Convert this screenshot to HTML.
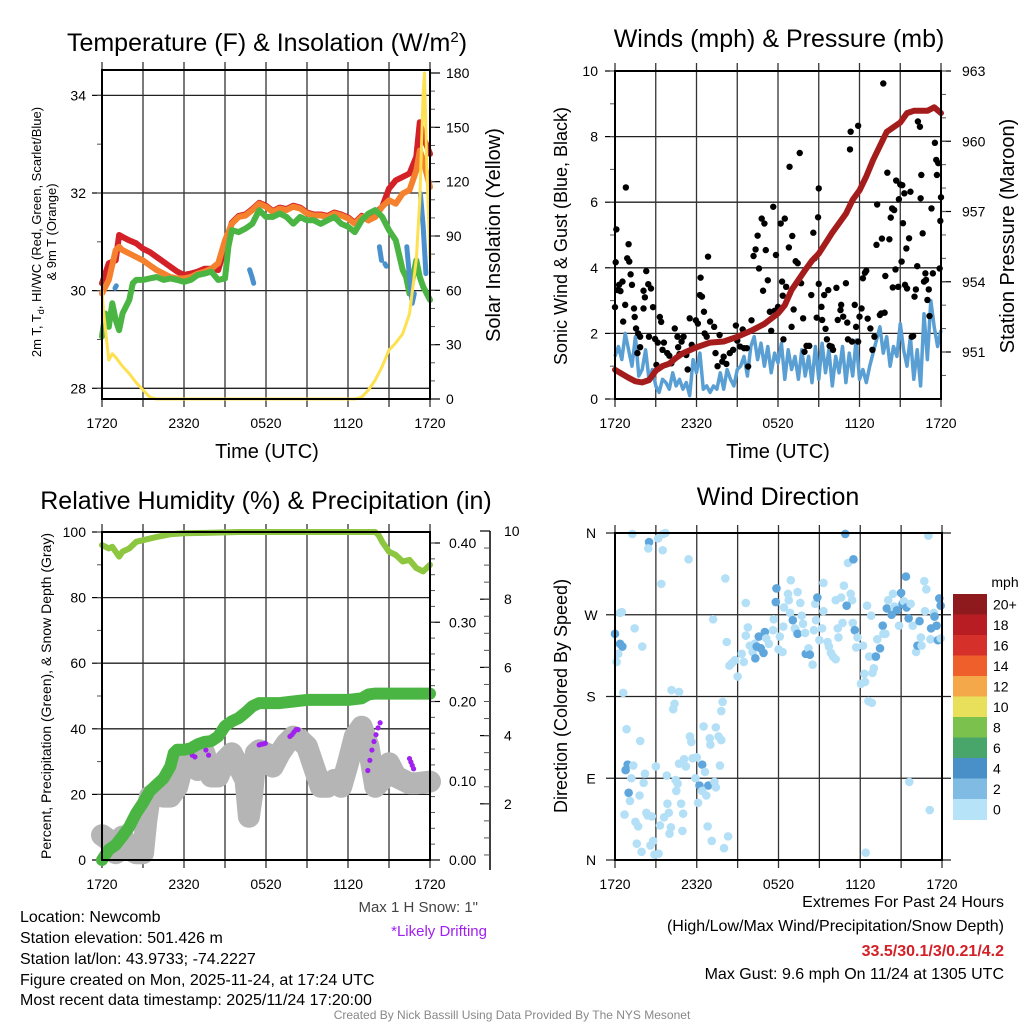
<!DOCTYPE html>
<html><head><meta charset="utf-8">
<style>
html,body{margin:0;padding:0;background:#fff;}
svg{display:block;font-family:"Liberation Sans",Arial,sans-serif;}
</style></head>
<body>
<svg id="chart" width="1024" height="1024" viewBox="0 0 1024 1024" xmlns="http://www.w3.org/2000/svg">
<rect width="1024" height="1024" fill="#fff"/>
<g id="p1"></g>
<g id="p2"></g>
<g id="p3"></g>
<g id="p4"></g>
<g id="txt">
<text x="267" y="51" font-size="25" text-anchor="middle">Temperature (F) &amp; Insolation (W/m<tspan dy="-9" font-size="15">2</tspan><tspan dy="9">)</tspan></text>
<text x="779" y="47" font-size="25" text-anchor="middle">Winds (mph) &amp; Pressure (mb)</text>
<text x="266" y="509" font-size="25" text-anchor="middle">Relative Humidity (%) &amp; Precipitation (in)</text>
<text x="778" y="505" font-size="25" text-anchor="middle">Wind Direction</text>
<text x="267" y="458" font-size="20" text-anchor="middle">Time (UTC)</text>
<text x="778" y="458" font-size="20" text-anchor="middle">Time (UTC)</text>
<text transform="translate(41,232) rotate(-90)" font-size="13" text-anchor="middle">2m T, T<tspan font-size="9" dy="3">d</tspan><tspan dy="-3">, HI/WC (Red, Green, Scarlet/Blue)</tspan></text>
<text transform="translate(56,232) rotate(-90)" font-size="13" text-anchor="middle">&amp; 9m T (Orange)</text>
<text transform="translate(500,235) rotate(-90)" font-size="20" text-anchor="middle">Solar Insolation (Yellow)</text>
<text transform="translate(567,236) rotate(-90)" font-size="18" text-anchor="middle">Sonic Wind &amp; Gust (Blue, Black)</text>
<text transform="translate(1014,236) rotate(-90)" font-size="20" text-anchor="middle">Station Pressure (Maroon)</text>
<text transform="translate(51,696) rotate(-90)" font-size="14" text-anchor="middle">Percent, Precipitation (Green), &amp; Snow Depth (Gray)</text>
<text transform="translate(567,696) rotate(-90)" font-size="18" text-anchor="middle">Direction (Colored By Speed)</text>
<text x="478" y="912" font-size="15" text-anchor="end" fill="#444">Max 1 H Snow: 1"</text>
<text x="487" y="936" font-size="15" text-anchor="end" fill="#a020f0">*Likely Drifting</text>
<g font-size="16">
<text x="20" y="922">Location: Newcomb</text>
<text x="20" y="943">Station elevation: 501.426 m</text>
<text x="20" y="964">Station lat/lon: 43.9733; -74.2227</text>
<text x="20" y="985">Figure created on Mon, 2025-11-24, at 17:24 UTC</text>
<text x="20" y="1005">Most recent data timestamp: 2025/11/24 17:20:00</text>
</g>
<g font-size="16" text-anchor="end">
<text x="1004" y="907">Extremes For Past 24 Hours</text>
<text x="1004" y="931">(High/Low/Max Wind/Precipitation/Snow Depth)</text>
<text x="1004" y="956" fill="#d42027" font-weight="bold">33.5/30.1/3/0.21/4.2</text>
<text x="1004" y="979">Max Gust: 9.6 mph On 11/24 at 1305 UTC</text>
</g>
<text x="512" y="1019" font-size="12" fill="#888" text-anchor="middle">Created By Nick Bassill Using Data Provided By The NYS Mesonet</text>
</g>
</svg>
<script>
// ---------- Panel 1 data ----------
const tempTimes=[0,0.5,1,1.25,1.5,2,2.5,3,3.5,4,4.5,5,5.5,6,6.5,7,7.5,8,8.5,9,9.5,10,10.5,11,11.5,12,12.5,13,13.5,14,14.5,15,15.5,16,16.5,17,17.5,18,18.5,19,19.5,20,20.5,21,21.5,22,22.5,23,23.25,23.5,24];
const redTemp=[30.15,30.56,30.62,31.14,31.1,31.03,30.97,30.86,30.79,30.69,30.59,30.49,30.39,30.32,30.35,30.39,30.45,30.45,30.42,30.9,31.39,31.53,31.56,31.67,31.8,31.74,31.63,31.7,31.67,31.74,31.7,31.6,31.56,31.56,31.53,31.6,31.56,31.5,31.39,31.53,31.44,31.58,31.72,32.09,32.26,32.33,32.4,32.74,33.45,33.15,32.8];
const orangeTemp=[29.94,30.22,30.83,30.9,30.83,30.76,30.69,30.62,30.52,30.42,30.35,30.28,30.25,30.25,30.28,30.35,30.39,30.45,30.56,31.03,31.37,31.51,31.54,31.65,31.78,31.72,31.61,31.68,31.65,31.72,31.68,31.58,31.54,31.54,31.51,31.58,31.54,31.48,31.37,31.51,31.44,31.51,31.72,31.85,31.78,31.99,32.06,32.46,32.87,32.67,32.12];
const greenTimes=[0,0.25,0.5,0.75,1,1.25,1.5,2,2.25,2.5,3,3.5,4,4.5,5,5.5,6,6.5,7,7.5,8,8.5,9,9.25,9.5,10,10.5,11,11.5,12,12.5,13,13.5,14,14.5,15,15.5,16,16.5,17,17.5,18,18.5,19,19.5,20,20.5,21,21.5,22,22.25,22.5,23,23.25,23.5,24];
const greenTemp=[29.06,29.53,29.26,29.74,29.4,29.19,29.53,29.81,30.15,30.22,30.22,30.25,30.28,30.22,30.25,30.22,30.18,30.22,30.32,30.35,30.39,30.22,30.25,30.9,31.24,31.2,31.27,31.37,31.65,31.51,31.51,31.58,31.51,31.37,31.51,31.44,31.44,31.37,31.44,31.51,31.37,31.31,31.2,31.44,31.58,31.65,31.51,31.24,31.03,30.42,30.28,29.94,30.62,30.28,30.08,29.81];
const blueTimes=[0.95,1.05,null,10.8,10.95,11.1,null,20.3,20.45,null,20.7,20.8,null,22.3,22.5,22.7,22.85,null,23.3,23.5,23.7];
const blueTemp=[30.05,30.1,null,30.43,30.3,30.15,null,30.9,30.62,null,30.55,30.5,null,30.9,30.28,29.74,29.94,null,31.99,31.31,30.35];
const solarTimes=[0,0.1,0.5,0.75,1,1.5,2,2.5,3,3.5,4,18.5,19,19.5,20,20.5,21,21.5,22,22.5,23,23.25,23.5,23.6,23.75,24];
const solarVals=[60,49,21.5,25,23,18,14,9,5,1,0,0,1,5,10.5,18,27,31,36,47,77,110,169,180,132,77];
const tempTicks=[28,30,32,34];
const solarTicks=[0,30,60,90,120,150,180];
const timeLabels=["1720","2320","0520","1120","1720"];
// ---------- Panel 2 data ----------
const presTimes=[0,1,1.5,2,2.5,3,3.5,4,4.5,5,6,7,8,9,10,11,12,12.5,13,14,14.5,15,16,17,17.5,18,18.5,19,19.5,20,21,21.5,22,23,23.5,24];
const presVals=[950.24,949.9,949.75,949.7,949.8,950.2,950.4,950.5,950.75,950.95,951.2,951.4,951.45,951.65,951.9,952.2,952.65,953.0,953.65,954.5,954.9,955.2,956.1,956.9,957.5,957.9,958.5,959.2,959.8,960.4,960.8,961.2,961.3,961.3,961.45,961.2];
const windVals=[1.3,1.6,1.2,2.0,1.5,1.0,1.9,0.7,0.9,1.5,0.6,0.9,0.4,0.2,0.6,0.5,0.3,0.8,0.4,0.6,0.3,0.5,0.1,1.2,0.8,1.4,0.3,0.4,0.2,0.4,0.3,0.8,0.3,0.9,0.6,0.4,0.9,1.0,1.3,0.7,1.6,1.9,1.2,1.7,1.0,1.6,0.8,1.4,1.1,1.7,0.6,1.5,0.9,1.3,0.6,1.5,0.7,1.3,0.5,1.6,0.6,1.7,0.8,1.5,0.4,1.3,0.8,1.6,0.5,1.4,0.7,1.8,0.6,0.9,0.5,1.0,1.4,1.8,2.2,1.4,1.9,1.0,1.6,1.3,2.3,1.5,1.0,1.9,0.6,1.5,0.4,2.6,1.2,3.0,2.2,1.6,2.1];
const gustTimes=[0,0.05,0.1,0.2,0.3,0.4,0.55,0.6,0.75,0.8,0.9,1.0,1.05,1.15,1.25,1.4,1.45,1.55,1.7,1.85,1.65,1.85,2.1,2.2,2.3,2.45,2.65,2.1,2.8,2.5,2.95,3.05,3.15,3.3,3.4,3.5,3.6,3.85,4.0,4.15,4.4,4.6,4.65,4.75,4.9,5.05,5.25,5.35,5.5,5.65,5.95,6.1,6.25,6.4,6.3,6.55,6.6,6.75,6.85,7.0,7.3,7.4,7.55,7.7,7.9,8.0,8.2,8.45,8.7,8.9,9.0,9.2,9.4,9.5,9.7,9.8,10.05,10.2,10.35,10.5,10.6,10.8,10.9,11.0,11.1,11.25,11.4,11.5,11.65,11.75,11.85,12.0,12.2,12.3,12.35,12.4,12.5,12.6,12.8,12.85,13.0,13.05,13.15,13.3,13.45,13.6,13.7,13.85,13.95,14.1,14.3,14.45,14.6,14.7,14.85,14.95,15.0,15.0,15.2,15.25,15.4,15.5,15.6,15.7,15.8,15.95,16.05,16.3,16.4,16.6,16.65,16.8,17.0,17.1,17.15,17.3,17.35,17.45,17.65,17.75,17.9,17.9,18.0,18.15,18.25,18.4,18.5,18.6,18.8,18.95,19.1,19.25,19.3,19.5,19.6,19.65,19.75,19.85,19.9,20.05,20.2,20.3,20.4,20.45,20.55,20.65,20.7,20.85,20.9,21.0,21.1,21.15,21.2,21.3,21.35,21.45,21.5,21.65,21.75,21.85,21.95,22.05,22.15,22.25,22.3,22.45,22.5,22.55,22.65,22.75,22.85,22.9,23.0,23.1,23.15,23.3,23.4,23.55,23.65,23.7,23.8,23.9,23.95,24];
const gustVals=[2.8,4.17,5.17,3.32,3.48,3.29,3.58,2.36,2.87,6.45,4.29,4.72,4.19,3.8,3.48,2.76,2.5,2.15,2.0,1.9,1.4,1.58,3.3,3.1,3.9,3.5,3.37,2.76,2.8,1.9,1.83,1.04,1.72,2.5,2.35,1.5,1.72,1.4,1.32,1.09,2.15,1.9,1.58,1.37,1.75,1.9,1.34,0.9,2.46,1.65,2.4,2.3,3.17,3.12,3.7,2.66,2.0,1.9,4.34,2.36,2.2,1.4,1.0,1.95,1.14,1.29,1.07,1.4,1.5,2.24,1.78,1.6,2.12,1.55,1.55,0.99,2.4,4.36,4.56,4.98,3.98,5.5,3.3,5.35,4.54,3.62,2.66,2.08,5.86,2.69,4.39,2.81,5.35,3.58,3.15,1.82,5.5,3.42,4.62,7.08,2.2,4.97,2.73,4.2,4.14,7.5,3.53,2.46,1.44,1.62,1.62,3.17,5.07,4.29,2.48,5.54,6.42,3.51,2.81,2.41,3.17,2.14,1.82,3.32,1.62,1.6,1.5,3.39,2.41,2.71,2.87,2.51,3.53,2.33,1.82,7.61,8.15,1.75,2.87,2.2,1.75,8.33,2.51,2.76,3.68,3.85,3.91,2.45,2.15,1.5,1.9,4.7,5.93,2.56,2.61,4.89,9.62,2.63,3.75,6.9,4.87,5.53,5.81,3.4,5.76,3.95,6.66,3.42,6.09,6.54,4.19,6.52,5.36,6.27,3.48,4.59,3.37,4.9,6.32,1.9,1.92,3.12,3.34,4.05,8.46,8.3,6.12,6.83,5.05,3.58,3.83,3.63,3.02,3.34,2.53,5.81,3.83,7.81,7.29,6.83,7.19,3.98,5.43,6.15];
const windTicks=[0,2,4,6,8,10];
const presTicks=[951,954,957,960,963];
// ---------- Panel 3 data ----------
const rhTimes=[0,0.5,0.75,1.25,1.5,2,2.5,3,4,5,6,8,10,20,20.25,20.5,21,21.5,22,22.5,23,23.5,24];
const rhVals=[96,95,95.5,92.5,94,95,97,97.5,98.5,99.3,99.6,99.8,100,100,99,97,94,93,91,91.5,89,88,90];
const precipTimes=[0,0.5,1,1.5,2,2.5,3,3.5,4,4.5,5,5.25,5.5,6,6.5,7,7.5,8,8.5,9,9.5,10,10.5,11,11.5,13,14,15,18,19,19.5,20,24];
const precipVals=[0,0.013,0.019,0.03,0.042,0.059,0.072,0.087,0.095,0.103,0.118,0.135,0.139,0.139,0.141,0.146,0.149,0.15,0.156,0.169,0.175,0.179,0.186,0.194,0.198,0.198,0.2,0.202,0.202,0.204,0.209,0.21,0.21];
const snowTimes=[0,0.5,1,1.5,2,2.5,3,3.25,3.5,4,4.5,5,5.5,6,6.5,7,7.5,8,8.5,9,9.5,10,10.5,10.75,11,11.25,11.5,12,12.5,13,13.5,14,14.5,15,15.5,16,16.5,17,17.5,18,18.5,19,19.5,20,20.5,21,21.5,22,22.5,23,24];
const snowVals=[1.08,0.94,0.55,1.04,0.65,0.55,0.55,1.53,2.21,2.31,2.21,2.21,2.5,3.28,3.19,2.99,3.48,2.8,2.8,3.28,3.48,3.09,2.7,1.62,2.31,3.48,3.57,3.48,3.09,3.48,3.77,3.97,3.87,3.68,3.09,2.5,2.5,2.7,2.5,3.19,3.97,4.26,3.68,2.5,2.7,3.19,2.8,2.7,2.6,2.6,2.65];
const driftTimes=[6.6,6.8,7.6,7.8,11.5,11.65,11.8,11.95,13.75,13.9,14.05,14.2,14.35,19.45,19.6,19.75,19.9,20.05,20.2,20.35,22.5,22.6,22.7,22.8];
const driftVals=[3.25,3.2,3.4,3.25,3.55,3.57,3.58,3.6,3.8,3.85,3.93,4.0,4.0,2.8,3.1,3.4,3.65,3.85,4.05,4.2,3.15,3.05,2.95,2.85];
const pctTicks=[0,20,40,60,80,100];
const precipTicks=[0,0.1,0.2,0.3,0.4];
const snowTicks=[2,4,6,8,10];
// ---------- Panel 4 data ----------
const dirTimes=[1.27,2.5,2.44,3.17,3.54,3.7,3.5,5.4,3.4,8.1,0.37,0.5,1.44,0,0.37,0.54,0.24,0.12,2.0,0.6,7.2,8.2,4.15,4.7,4.37,4.27,7.9,7.8,0.85,1.85,0.93,0.78,1.34,1.2,2.2,2.1,1.0,1.1,1.8,0.7,1.5,1.7,2.3,2.4,2.7,1.6,1.95,2.6,2.8,2.9,3.2,3.3,3.0,3.6,3.8,3.85,3.95,4.1,4.0,4.45,4.6,4.5,4.85,5.0,4.95,4.7,5.07,5.2,5.5,5.6,5.7,6.0,5.9,6.4,6.6,6.2,6.85,6.4,6.7,6.1,7.3,7.4,6.5,6.95,7.4,7.6,7.8,7.0,7.7,6.8,7.1,8.3,8.0,8.4,8.6,8.8,9.0,9.3,9.45,9.6,9.75,9.6,9.9,10.25,10.1,10.3,10.55,10.4,10.7,10.9,11.0,11.1,11.3,11.6,11.65,11.8,11.85,12.1,12.0,12.3,12.4,12.35,12.7,12.75,12.9,12.85,13.05,13.2,13.25,13.4,13.4,13.6,13.7,13.8,13.95,14.0,14.2,14.3,14.5,14.6,14.7,14.85,14.75,15.0,15.2,15.3,15.3,15.6,15.7,15.85,16.0,16.2,16.2,16.35,16.4,16.6,16.7,16.8,16.9,17.1,17.5,17.3,17.4,17.0,17.45,17.6,17.8,17.7,18.2,18.05,18.35,18.3,18.5,18.65,18.8,18.9,19.0,19.05,18.6,18.85,19.15,19.25,19.45,19.65,19.7,19.85,19.95,20.05,20.3,20.4,20.5,20.7,20.85,21.0,21.1,21.2,21.35,21.4,21.55,21.7,21.85,22.1,22.2,22.35,22.45,22.5,22.7,22.85,22.75,23.15,23.2,23.4,23.45,23.6,23.7,23.8,23.9,23.9,21.6,23.1,18.4,23.0];
const dirVals=[359,350,343,354,359,360,341,331,304,310,272,273,255,249,238,235,227,218,235,184,265,240,187,185,172,166,174,164,144,131,105,99,104,90,95,85,74,65,71,50,42,37,52,49,48,18,9,16,21,6,7,38,103,47,93,62,52,36,29,88,84,76,62,51,32,106,111,103,136,130,112,113,90,105,97,82,82,76,71,63,86,80,147,134,146,136,132,127,104,37,21,26,13,214,217,220,202,227,218,247,256,283,236,238,229,222,246,235,233,228,251,244,238,253,265,284,299,246,232,229,278,257,293,286,308,272,264,255,254,249,295,283,269,260,250,227,233,226,215,253,282,289,264,242,255,274,305,240,235,228,224,221,286,255,245,289,261,302,359,327,331,293,286,280,261,253,245,234,236,194,196,205,280,224,269,206,211,224,175,173,224,243,233,258,249,249,277,286,270,293,279,275,258,294,282,285,312,278,266,282,258,229,236,263,245,236,307,298,274,243,255,272,268,258,242,288,280,244,86,55,8,357];
const dirSpeedClass=[1,3,1,1,1,1,1,1,1,1,1,1,1,3,3,3,1,1,1,1,1,1,1,1,1,1,1,1,1,1,3,3,1,1,1,1,3,1,1,1,1,1,1,1,1,1,1,1,1,1,1,1,1,1,1,1,1,1,1,1,1,1,1,1,1,1,1,1,1,1,1,1,1,3,1,3,3,1,1,1,1,1,1,1,1,1,1,1,1,1,1,1,1,1,1,1,1,1,1,1,1,1,1,1,1,3,3,3,3,3,3,1,1,1,1,3,3,1,1,1,1,1,1,1,1,1,3,1,1,3,1,1,1,1,1,3,1,3,1,1,1,3,1,1,1,1,1,1,1,1,1,1,1,1,1,1,1,1,3,1,3,1,1,3,1,3,1,1,1,1,1,1,1,1,1,1,1,1,1,1,3,1,3,3,1,1,3,1,3,1,1,3,1,3,3,1,3,3,3,1,1,1,3,3,1,1,1,1,1,1,3,1,3,3,3,3,3,1,1,1,1];
const dirLabels=["N","E","S","W","N"];
const cbarLabels=["20+","18","16","14","12","10","8","6","4","2","0"];
const cbarColors=["#8e1a1d","#b81d24","#d6302a","#ee5f2c","#f5a84a","#e8e05a","#7ac14e","#49a66b","#4a90c8","#7fbbe3","#b7e3f8"];

// ---------- helpers ----------
const NS="http://www.w3.org/2000/svg";
function mk(parent,tag,attrs){const e=document.createElementNS(NS,tag);for(const k in attrs)e.setAttribute(k,attrs[k]);parent.appendChild(e);return e;}
function pathFrom(ts,vs,sx,sy){let d="",pen=false;for(let i=0;i<ts.length;i++){if(ts[i]===null||vs[i]===null){pen=false;continue;}d+=(pen?"L":"M")+sx(ts[i]).toFixed(1)+","+sy(vs[i]).toFixed(1);pen=true;}return d;}
function lin(d0,d1,r0,r1){return v=>r0+(v-d0)/(d1-d0)*(r1-r0);}

function frame(g,x0,x1,y0,y1,xb){
  const sx=lin(0,24,x0,x1);
  for(let h=0;h<=24;h+=3){
    const l=mk(g,"line",{x1:sx(h),x2:sx(h),y1:y0-8,y2:y1+8,stroke:"#333","stroke-width":1.3});
    
    
  }
  timeLabels.forEach((t,i)=>{
    const tx=mk(g,"text",{x:sx(i*6),y:xb,"font-size":14,"text-anchor":"middle"});tx.textContent=t;
    
    
  });
  return sx;
}
function box(g,x0,x1,y0,y1){const r=mk(g,"rect",{x:x0,y:y0,width:x1-x0,height:y1-y0,fill:"none",stroke:"#000","stroke-width":2});
  
  }
function hgrid(g,x0,x1,y,ext){const l=mk(g,"line",{x1:x0-ext,x2:x1+ext,y1:y,y2:y,stroke:"#222","stroke-width":1.3});
  
  }
function leftTicks(g,x0,ticks,sy,minorStep,fmt,lx){
  ticks.forEach(v=>{mk(g,"line",{x1:x0-10,x2:x0,y1:sy(v),y2:sy(v),stroke:"#000","stroke-width":1.2});
    const t=mk(g,"text",{x:lx,y:sy(v)+5,"font-size":14,"text-anchor":"end"});t.textContent=fmt(v);
    
    });
  if(minorStep){for(let v=ticks[0];v<=ticks[ticks.length-1];v+=minorStep){mk(g,"line",{x1:x0-5,x2:x0,y1:sy(v),y2:sy(v),stroke:"#555","stroke-width":1});}}
}
function rightTicks(g,x1,ticks,sy,minorVals,fmt,lx){
  ticks.forEach(v=>{mk(g,"line",{x1:x1,x2:x1+10,y1:sy(v),y2:sy(v),stroke:"#000","stroke-width":1.2});
    const t=mk(g,"text",{x:lx,y:sy(v)+5,"font-size":14,"text-anchor":"start"});t.textContent=fmt(v);
    
    });
  minorVals.forEach(v=>mk(g,"line",{x1:x1,x2:x1+5,y1:sy(v),y2:sy(v),stroke:"#555","stroke-width":1}));
}
function range(a,b,s){const r=[];for(let v=a;v<=b+1e-9;v+=s)r.push(+v.toFixed(4));return r;}

// ---------- Panel 1 ----------
(function(){
  const g=document.getElementById("p1");
  const X0=102,X1=430,Y0=70,Y1=399;
  const sy=lin(28,32,388.3,193),syR=lin(0,180,399,73);
  tempTicks.forEach(v=>hgrid(g,X0,X1,sy(v),0));
  const sx=frame(g,X0,X1,Y0,Y1,428);
  leftTicks(g,X0,tempTicks,sy,1,v=>String(v),86);
  rightTicks(g,X1,solarTicks,syR,range(10,170,10),v=>String(v),446);
  const red=mk(g,"path",{d:pathFrom(tempTimes,redTemp,sx,sy),fill:"none",stroke:"#d42027","stroke-width":6,"stroke-linejoin":"round","stroke-linecap":"round"});
  
  
  const or=mk(g,"path",{d:pathFrom(tempTimes,orangeTemp,sx,sy),fill:"none",stroke:"#f5812f","stroke-width":6,"stroke-linejoin":"round","stroke-linecap":"round"});
  
  
  const gr=mk(g,"path",{d:pathFrom(greenTimes,greenTemp,sx,sy),fill:"none",stroke:"#4bb543","stroke-width":6,"stroke-linejoin":"round","stroke-linecap":"round"});
  
  
  const bl=mk(g,"path",{d:pathFrom(blueTimes,blueTemp,sx,sy),fill:"none",stroke:"#4a90cd","stroke-width":5,"stroke-linejoin":"round","stroke-linecap":"round"});
  
  
  const ye=mk(g,"path",{d:pathFrom(solarTimes,solarVals,sx,syR),fill:"none",stroke:"#fde150","stroke-width":3,"stroke-linejoin":"round"});
  
  
  box(g,X0,X1,Y0,Y1);
})();

// ---------- Panel 2 ----------
(function(){
  const g=document.getElementById("p2");
  const X0=615,X1=941,Y0=71,Y1=399;
  const sy=lin(0,10,399,71),syR=lin(951,963,352,71);
  windTicks.forEach(v=>hgrid(g,X0,X1,sy(v),0));
  const sx=frame(g,X0,X1,Y0,Y1,428);
  leftTicks(g,X0,windTicks,sy,1,v=>String(v),598);
  rightTicks(g,X1,presTicks,syR,range(950,963,1),v=>String(v),962);
  const wt=windVals.map((v,i)=>i*0.25);
  const wl=mk(g,"path",{d:pathFrom(wt,windVals,sx,sy),fill:"none",stroke:"#5a9fd4","stroke-width":3.5,"stroke-linejoin":"round"});
  
  
  gustTimes.forEach((t,i)=>{
    const c=mk(g,"circle",{cx:sx(t),cy:sy(gustVals[i]),r:3.2,fill:"#000"});
    
    
  });
  const pl=mk(g,"path",{d:pathFrom(presTimes,presVals,sx,syR),fill:"none",stroke:"#a51c1c","stroke-width":6,"stroke-linejoin":"round","stroke-linecap":"round"});
  
  
  box(g,X0,X1,Y0,Y1);
})();

// ---------- Panel 3 ----------
(function(){
  const g=document.getElementById("p3");
  const X0=102,X1=430,Y0=532,Y1=860;
  const sy=lin(0,100,860,532),syP=lin(0,0.4,860,543),syS=lin(0,10,872,531);
  pctTicks.forEach(v=>hgrid(g,X0,X1,sy(v),0));
  const sx=frame(g,X0,X1,Y0,Y1,889);
  leftTicks(g,X0,pctTicks,sy,10,v=>String(v),86);
  rightTicks(g,X1,precipTicks,syP,range(0.02,0.4,0.02),v=>v.toFixed(2),449);
  mk(g,"line",{x1:490,x2:490,y1:531,y2:870,stroke:"#000","stroke-width":1.5});
  snowTicks.forEach(v=>{mk(g,"line",{x1:480,x2:490,y1:syS(v),y2:syS(v),stroke:"#000","stroke-width":1.2});
    const t=mk(g,"text",{x:504,y:syS(v)+5,"font-size":14});t.textContent=String(v);
    
    });
  range(0.5,9.5,0.5).forEach(v=>mk(g,"line",{x1:484,x2:490,y1:syS(v),y2:syS(v),stroke:"#555","stroke-width":1}));
  const sn=mk(g,"path",{d:pathFrom(snowTimes,snowVals,sx,syS),fill:"none",stroke:"#b5b5b5","stroke-width":22,"stroke-linejoin":"round","stroke-linecap":"round"});
  
  
  driftTimes.forEach((t,i)=>{
    const c=mk(g,"circle",{cx:sx(t),cy:syS(driftVals[i])-6,r:2.6,fill:"#a020f0"});
    
    
  });
  const pr=mk(g,"path",{d:pathFrom(precipTimes,precipVals,sx,syP),fill:"none",stroke:"#4bb543","stroke-width":12,"stroke-linejoin":"round","stroke-linecap":"round"});
  
  
  const rh=mk(g,"path",{d:pathFrom(rhTimes,rhVals,sx,sy),fill:"none",stroke:"#8dc63f","stroke-width":6,"stroke-linejoin":"round","stroke-linecap":"round"});
  
  
  box(g,X0,X1,Y0,Y1);
})();

// ---------- Panel 4 ----------
(function(){
  const g=document.getElementById("p4");
  const X0=615,X1=942,Y0=533,Y1=860;
  const sy=lin(0,360,860,533);
  [0,90,180,270,360].forEach(v=>hgrid(g,X0,X1,sy(v),9));
  const sx=frame(g,X0,X1,Y0,Y1,889);
  dirLabels.forEach((l,i)=>{const t=mk(g,"text",{x:591,y:sy(i*90)+5,"font-size":14,"text-anchor":"middle"});t.textContent=l;
    
    });
  dirTimes.forEach((t,i)=>{
    const c=mk(g,"circle",{cx:sx(t),cy:sy(dirVals[i]),r:4.3,fill:dirSpeedClass[i]>=2?"#5ea6dc":"#b3e0f7"});
    
    
  });
  const cb=mk(g,"g",{});
  
  
  const t0=mk(cb,"text",{x:1005,y:587,"font-size":14,"text-anchor":"middle"});t0.textContent="mph";
  
  
  const h=20.5;
  cbarColors.forEach((c,i)=>{mk(cb,"rect",{x:953,y:594+i*h,width:34,height:h+0.5,fill:c});
    const t=mk(cb,"text",{x:993,y:594+i*h+h/2+5,"font-size":14});t.textContent=cbarLabels[i];
    
    });
  box(g,X0,X1,Y0,Y1);
})();
</script>
</body></html>
